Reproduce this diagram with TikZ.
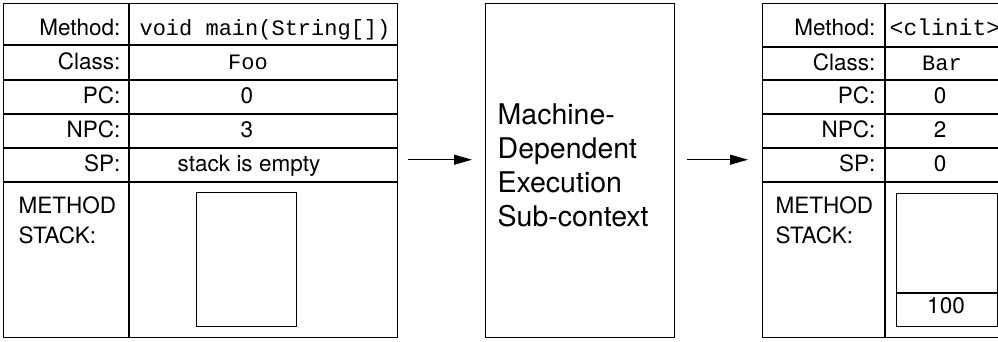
\documentclass[tikz,border=0pt]{standalone}
\usepackage{fontspec}
\setmainfont{TeX Gyre Heros}
\setmonofont{Liberation Mono}
\usetikzlibrary{arrows.meta}
\begin{document}
\begin{tikzpicture}[x=1pt,y=-1pt,line width=1.4pt,
  frame/.style={draw,rectangle,inner sep=0pt,anchor=north west},
  lab/.style={anchor=base east,inner sep=0pt,font=\fontsize{22.5}{27}\selectfont},
  lableft/.style={anchor=base west,inner sep=0pt,font=\fontsize{22.5}{27}\selectfont},
  val/.style={anchor=base,inner sep=0pt,font=\fontsize{22.5}{27}\selectfont},
  codeval/.style={anchor=base,inner sep=0pt,font=\fontsize{22}{26}\ttfamily},
  flow/.style={line width=1.3pt,-{Triangle[length=18pt,width=10pt]}}]
\useasboundingbox (0,0) rectangle (998,342);
\clip (0,0) rectangle (998,342);

% first execution context
\node[frame,minimum width=394pt,minimum height=334pt] (ctxA) at (3,3) {};
\draw (129,3) -- (129,337);
\foreach \r in {45,80,114,148,182} \draw (3,\r) -- (397,\r);
\node[frame,minimum width=100pt,minimum height=134pt,line width=1.2pt] (stackA) at (196,192) {};
\node[lab] (mA) at (121,36) {Method:};
\node[lab] (cA) at (121,70) {Class:};
\node[lab] (pA) at (121,104) {PC:};
\node[lab] (nA) at (121,138) {NPC:};
\node[lab] (sA) at (121,171) {SP:};
\node[lableft] (msA) at (18,213) {METHOD};
\node[lableft] (ms2A) at (18,243) {STACK:};
\node[codeval] (mvA) at (265,36) {void main(String[])};
\node[codeval] (cvA) at (248,70) {Foo};
\node[val] (pvA) at (247,104) {0};
\node[val] (nvA) at (247,138) {3};
\node[val] (svA) at (249,171) {stack is empty};

% machine-dependent part
\node[frame,minimum width=189pt,minimum height=334pt] (mdep) at (485,3) {};
\node[anchor=west,inner sep=0pt,align=left,font=\fontsize{28.5}{34}\selectfont] (mtext) at (497,165.6)
  {Machine-\\Dependent\\Execution\\Sub-context};

% second execution context
\node[frame,minimum width=237.5pt,minimum height=334pt] (ctxB) at (762,3) {};
\draw (885,3) -- (885,337);
\foreach \r in {47,80,114,148,182} \draw (762,\r) -- (999.5,\r);
\node[frame,minimum width=101pt,minimum height=133pt,line width=1.2pt] (stackB) at (896,193) {};
\draw[line width=1.2pt] (stackB.west |- 0,293) -- (stackB.east |- 0,293);
\node[val] (topB) at (946,313) {100};
\node[lab] (mB) at (876,36) {Method:};
\node[lab] (cB) at (876,71) {Class:};
\node[lab] (pB) at (876,104) {PC:};
\node[lab] (nB) at (876,138) {NPC:};
\node[lab] (sB) at (876,171) {SP:};
\node[lableft] (msB) at (775,213) {METHOD};
\node[lableft] (ms2B) at (775,243) {STACK:};
\node[codeval,anchor=base west,font=\fontsize{23}{27}\ttfamily] (mvB) at (889,36) {<clinit>};
\node[codeval] (cvB) at (942,71) {Bar};
\node[val] (pvB) at (940,104) {0};
\node[val] (nvB) at (940,138) {2};
\node[val] (svB) at (940,171) {0};

% flow of control
\draw[flow,shorten <=10pt,shorten >=13pt] ([yshift=11pt]ctxA.east) -- ([yshift=11pt]mdep.west);
\draw[flow,shorten <=12pt,shorten >=14pt] ([yshift=11pt]mdep.east) -- ([yshift=11pt]ctxB.west);
\end{tikzpicture}
\end{document}
